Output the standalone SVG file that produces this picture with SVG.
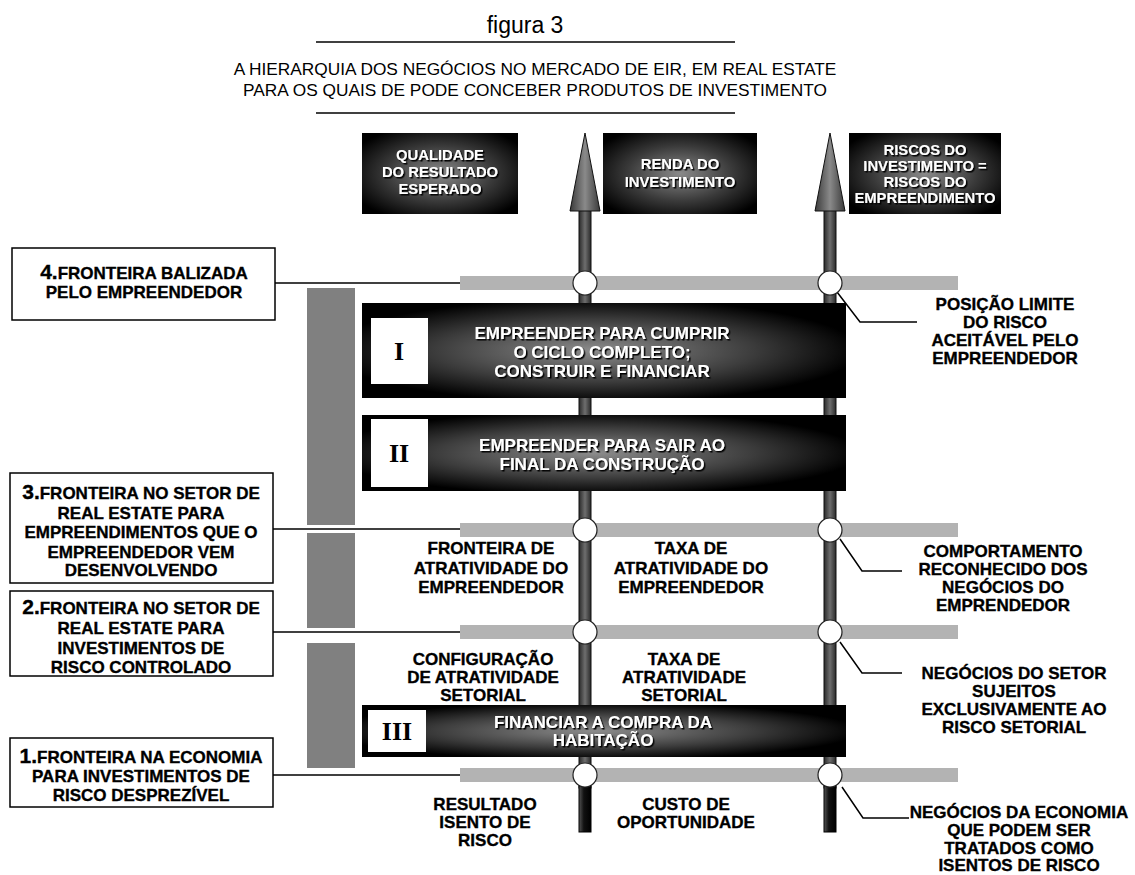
<svg xmlns="http://www.w3.org/2000/svg" width="1135" height="875" viewBox="0 0 1135 875">
<defs>
<style>
text{font-family:"Liberation Sans",Arial,sans-serif;}
.t{font-size:17px;font-weight:bold;fill:#000;stroke:#000;stroke-width:0.35;text-anchor:middle;}
.big{font-size:21px;}
.w{font-size:17px;font-weight:bold;fill:#fff;text-anchor:middle;filter:url(#sh);}
.hw{font-size:14.8px;font-weight:bold;fill:#fff;text-anchor:middle;filter:url(#sh);}
.lb{fill:#fff;stroke:#000;stroke-width:1.5;}
.ln{stroke:#000;stroke-width:1.5;fill:none;}
.bar{fill:#b3b3b3;}
.gv{fill:#808080;}
.cir{fill:#fff;stroke:#222;stroke-width:1.2;}
.sq{fill:#fff;}
.num{font-family:"Liberation Serif",serif;font-size:26px;font-weight:bold;text-anchor:middle;fill:#000;}
.shaft{fill:url(#sg);stroke:#111;stroke-width:1;}
.stub{fill:url(#dg);stroke:#000;stroke-width:1;}
.head{fill:url(#ag);stroke:#111;stroke-width:1;}
</style>
<radialGradient id="hg" cx="50%" cy="50%" r="62%">
<stop offset="0" stop-color="#8a8a8a"/>
<stop offset="0.55" stop-color="#3a3a3a"/>
<stop offset="1" stop-color="#000"/>
</radialGradient>
<radialGradient id="bg" cx="48%" cy="50%" r="55%">
<stop offset="0" stop-color="#8c8c8c"/>
<stop offset="0.6" stop-color="#3c3c3c"/>
<stop offset="1" stop-color="#000"/>
</radialGradient>
<linearGradient id="sg" x1="0" x2="1" y1="0" y2="0">
<stop offset="0" stop-color="#2a2a2a"/>
<stop offset="0.5" stop-color="#6e6e6e"/>
<stop offset="1" stop-color="#2a2a2a"/>
</linearGradient>
<linearGradient id="dg" x1="0" x2="1" y1="0" y2="0">
<stop offset="0" stop-color="#555"/>
<stop offset="0.4" stop-color="#111"/>
<stop offset="1" stop-color="#000"/>
</linearGradient>
<linearGradient id="ag" x1="0" x2="1" y1="0" y2="0">
<stop offset="0" stop-color="#3a3a3a"/>
<stop offset="0.5" stop-color="#8a8a8a"/>
<stop offset="1" stop-color="#3a3a3a"/>
</linearGradient>
<filter id="sh" x="-5%" y="-20%" width="110%" height="140%">
<feDropShadow dx="1.5" dy="1.5" stdDeviation="0.3" flood-color="#000"/>
</filter>
</defs>
<rect width="1135" height="875" fill="#fff"/>

<g id="title">
<text x="525" y="33" font-size="23" text-anchor="middle">figura 3</text>
<line x1="316" y1="42" x2="735" y2="42" class="ln"/>
<text x="535" y="75" font-size="17.3" text-anchor="middle">A HIERARQUIA DOS NEGÓCIOS NO MERCADO DE EIR, EM REAL ESTATE</text>
<text x="535" y="96" font-size="17.3" text-anchor="middle">PARA OS QUAIS DE PODE CONCEBER PRODUTOS DE INVESTIMENTO</text>
<line x1="316" y1="113" x2="735" y2="113" class="ln"/>
</g>

<g id="axes">
<rect x="579" y="208" width="12" height="580" class="shaft"/>
<rect x="579" y="786" width="12" height="46" class="stub"/>
<polygon points="585,133 570,211 600,211" class="head"/>
<rect x="824" y="208" width="12" height="580" class="shaft"/>
<rect x="824" y="786" width="12" height="46" class="stub"/>
<polygon points="830,133 815,211 845,211" class="head"/>
</g>

<g id="left-gray">
<rect x="307" y="288" width="48" height="237" class="gv"/>
<rect x="307" y="533" width="48" height="95" class="gv"/>
<rect x="307" y="643" width="48" height="125" class="gv"/>
</g>

<g id="connectors">
<line x1="275" y1="283" x2="462" y2="283" class="ln"/>
<line x1="273" y1="529" x2="462" y2="529" class="ln"/>
<line x1="273" y1="632" x2="462" y2="632" class="ln"/>
<line x1="273" y1="775" x2="462" y2="775" class="ln"/>
<polyline points="837,292 860,322 917,322" class="ln" stroke-width="1.2"/>
<polyline points="840,539 862,571 902,571" class="ln" stroke-width="1.2"/>
<polyline points="840,642 862,673 902,673" class="ln" stroke-width="1.2"/>
<polyline points="842,787 863,818 909,818" class="ln" stroke-width="1.2"/>
</g>

<g id="bars">
<rect x="460" y="276" width="498" height="14" class="bar"/>
<rect x="460" y="523" width="498" height="14" class="bar"/>
<rect x="460" y="625" width="498" height="14" class="bar"/>
<rect x="460" y="768" width="498" height="14" class="bar"/>
<circle cx="585" cy="283" r="12" class="cir"/>
<circle cx="830" cy="283" r="12" class="cir"/>
<circle cx="585" cy="530" r="12" class="cir"/>
<circle cx="830" cy="530" r="12" class="cir"/>
<circle cx="585" cy="632" r="12" class="cir"/>
<circle cx="830" cy="632" r="12" class="cir"/>
<circle cx="585" cy="775" r="12" class="cir"/>
<circle cx="830" cy="775" r="12" class="cir"/>
</g>

<g id="head-qualidade">
<rect x="362" y="133" width="156" height="81" fill="url(#hg)"/>
<text class="hw" x="440" y="160">QUALIDADE</text>
<text class="hw" x="440" y="177">DO RESULTADO</text>
<text class="hw" x="440" y="194">ESPERADO</text>
</g>
<g id="head-renda">
<rect x="603" y="133" width="154" height="81" fill="url(#hg)"/>
<text class="hw" x="680" y="169">RENDA DO</text>
<text class="hw" x="680" y="187">INVESTIMENTO</text>
</g>
<g id="head-riscos">
<rect x="849" y="133" width="152" height="81" fill="url(#hg)"/>
<text class="hw" x="925" y="155">RISCOS DO</text>
<text class="hw" x="925" y="171">INVESTIMENTO =</text>
<text class="hw" x="925" y="187">RISCOS DO</text>
<text class="hw" x="925" y="203">EMPREENDIMENTO</text>
</g>

<g id="box-I">
<rect x="362" y="303" width="484" height="95" fill="url(#bg)"/>
<rect x="371" y="318" width="57" height="66" class="sq"/>
<text class="num" x="399" y="360">I</text>
<text class="w" x="602" y="339">EMPREENDER PARA CUMPRIR</text>
<text class="w" x="602" y="358">O CICLO COMPLETO;</text>
<text class="w" x="602" y="377">CONSTRUIR E FINANCIAR</text>
</g>
<g id="box-II">
<rect x="362" y="415" width="484" height="76" fill="url(#bg)"/>
<rect x="371" y="419" width="57" height="68" class="sq"/>
<text class="num" x="399" y="462">II</text>
<text class="w" x="602" y="451">EMPREENDER PARA SAIR AO</text>
<text class="w" x="602" y="470">FINAL DA CONSTRUÇÃO</text>
</g>
<g id="box-III">
<rect x="362" y="705" width="484" height="52" fill="url(#bg)"/>
<rect x="368" y="710" width="58" height="42" class="sq"/>
<text class="num" x="397" y="740">III</text>
<text class="w" x="603" y="728">FINANCIAR A COMPRA DA</text>
<text class="w" x="603" y="746">HABITAÇÃO</text>
</g>

<g id="box-4">
<rect x="12" y="248" width="263" height="72" class="lb"/>
<text class="t" x="144" y="279"><tspan class="big">4.</tspan>FRONTEIRA BALIZADA</text>
<text class="t" x="144" y="298">PELO EMPREENDEDOR</text>
</g>
<g id="box-3">
<rect x="10" y="473" width="263" height="110" class="lb"/>
<text class="t" x="141" y="499"><tspan class="big">3.</tspan>FRONTEIRA NO SETOR DE</text>
<text class="t" x="141" y="519">REAL ESTATE PARA</text>
<text class="t" x="141" y="538">EMPREENDIMENTOS QUE O</text>
<text class="t" x="141" y="558">EMPREENDEDOR VEM</text>
<text class="t" x="141" y="576">DESENVOLVENDO</text>
</g>
<g id="box-2">
<rect x="10" y="591" width="263" height="85" class="lb"/>
<text class="t" x="141" y="614"><tspan class="big">2.</tspan>FRONTEIRA NO SETOR DE</text>
<text class="t" x="141" y="634">REAL ESTATE PARA</text>
<text class="t" x="141" y="654">INVESTIMENTOS DE</text>
<text class="t" x="141" y="673">RISCO CONTROLADO</text>
</g>
<g id="box-1">
<rect x="10" y="738" width="263" height="69" class="lb"/>
<text class="t" x="141" y="763"><tspan class="big">1.</tspan>FRONTEIRA NA ECONOMIA</text>
<text class="t" x="141" y="782">PARA INVESTIMENTOS DE</text>
<text class="t" x="141" y="801">RISCO DESPREZÍVEL</text>
</g>

<g id="mid-labels">
<text class="t" x="491" y="554">FRONTEIRA DE</text>
<text class="t" x="491" y="574">ATRATIVIDADE DO</text>
<text class="t" x="491" y="593">EMPREENDEDOR</text>
<text class="t" x="691" y="554">TAXA DE</text>
<text class="t" x="691" y="574">ATRATIVIDADE DO</text>
<text class="t" x="691" y="593">EMPREENDEDOR</text>
<text class="t" x="483" y="665">CONFIGURAÇÃO</text>
<text class="t" x="483" y="683">DE ATRATIVIDADE</text>
<text class="t" x="483" y="701">SETORIAL</text>
<text class="t" x="684" y="665">TAXA DE</text>
<text class="t" x="684" y="683">ATRATIVIDADE</text>
<text class="t" x="684" y="701">SETORIAL</text>
<text class="t" x="485" y="810">RESULTADO</text>
<text class="t" x="485" y="828">ISENTO DE</text>
<text class="t" x="485" y="846">RISCO</text>
<text class="t" x="686" y="810">CUSTO DE</text>
<text class="t" x="686" y="828">OPORTUNIDADE</text>
</g>

<g id="right-labels">
<text class="t" x="1005" y="310">POSIÇÃO LIMITE</text>
<text class="t" x="1005" y="328">DO RISCO</text>
<text class="t" x="1005" y="346">ACEITÁVEL PELO</text>
<text class="t" x="1005" y="364">EMPREENDEDOR</text>
<text class="t" x="1003" y="557">COMPORTAMENTO</text>
<text class="t" x="1003" y="575">RECONHECIDO DOS</text>
<text class="t" x="1003" y="593">NEGÓCIOS DO</text>
<text class="t" x="1003" y="611">EMPRENDEDOR</text>
<text class="t" x="1014" y="679">NEGÓCIOS DO SETOR</text>
<text class="t" x="1014" y="697">SUJEITOS</text>
<text class="t" x="1014" y="715">EXCLUSIVAMENTE AO</text>
<text class="t" x="1014" y="733">RISCO SETORIAL</text>
<text class="t" x="1019" y="818">NEGÓCIOS DA ECONOMIA</text>
<text class="t" x="1019" y="836">QUE PODEM SER</text>
<text class="t" x="1019" y="854">TRATADOS COMO</text>
<text class="t" x="1019" y="871">ISENTOS DE RISCO</text>
</g>
</svg>
